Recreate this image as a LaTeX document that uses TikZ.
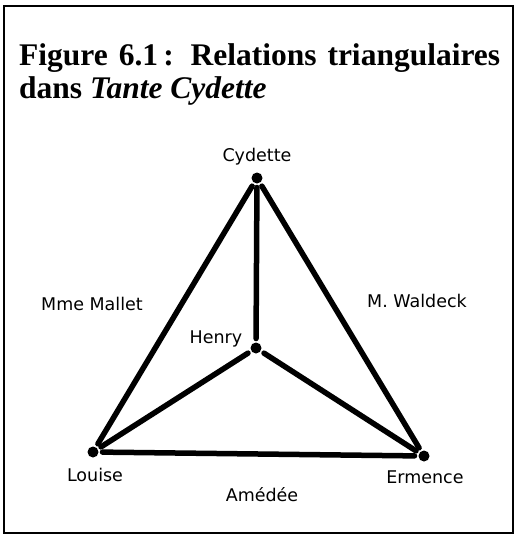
\documentclass[tikz,border=0pt]{standalone}
\usepackage{fontspec}
\setmainfont{Liberation Serif}
\newfontfamily\labelfont{DejaVu Sans}
\usetikzlibrary{calc}

\tikzset{
  dot/.style={circle,fill=black,inner sep=0pt,minimum size=11pt,outer sep=4pt},
  rel/.style={line width=5.5pt,line cap=round},
  who/.style={font=\labelfont\fontsize{17.5}{19}\selectfont,inner sep=0pt}
}

\begin{document}
\begin{tikzpicture}[x=1pt,y=-1pt]
  \useasboundingbox (0,0) rectangle (516,539);
  \draw[line width=1.5pt] (4,6) rectangle (513,533);
  \node[anchor=north west,text width=481pt,align=justify,inner sep=0pt,
        font=\fontsize{31.5}{33}\selectfont\bfseries] (title) at (19,43)
    {Figure 6.1\thinspace: Relations triangulaires dans \textit{Tante Cydette}};
  % the four characters
  \node[dot] (cyd) at (257,178) {};
  \node[dot] (hen) at (256,348) {};
  \node[dot] (lou) at (93,452) {};
  \node[dot] (erm) at (424,456) {};
  \draw[rel] (cyd) -- (hen);
  \draw[rel] (cyd) -- (lou);
  \draw[rel] (cyd) -- (erm);
  \draw[rel] (hen) -- (lou);
  \draw[rel] (hen) -- (erm);
  \draw[rel] (lou) -- (erm);
  % names
  \node[who] (lcyd) at (257,157) {Cydette};
  \node[who] (lhen) at (216,339) {Henry};
  \node[who] (llou) at (95,475) {Louise};
  \node[who] (lerm) at (425,477) {Ermence};
  \node[who] (lmal) at (92,304) {Mme Mallet};
  \node[who] (lwal) at (417,301) {M. Waldeck};
  \node[who] (lame) at (262,495) {Amédée};
\end{tikzpicture}
\end{document}
